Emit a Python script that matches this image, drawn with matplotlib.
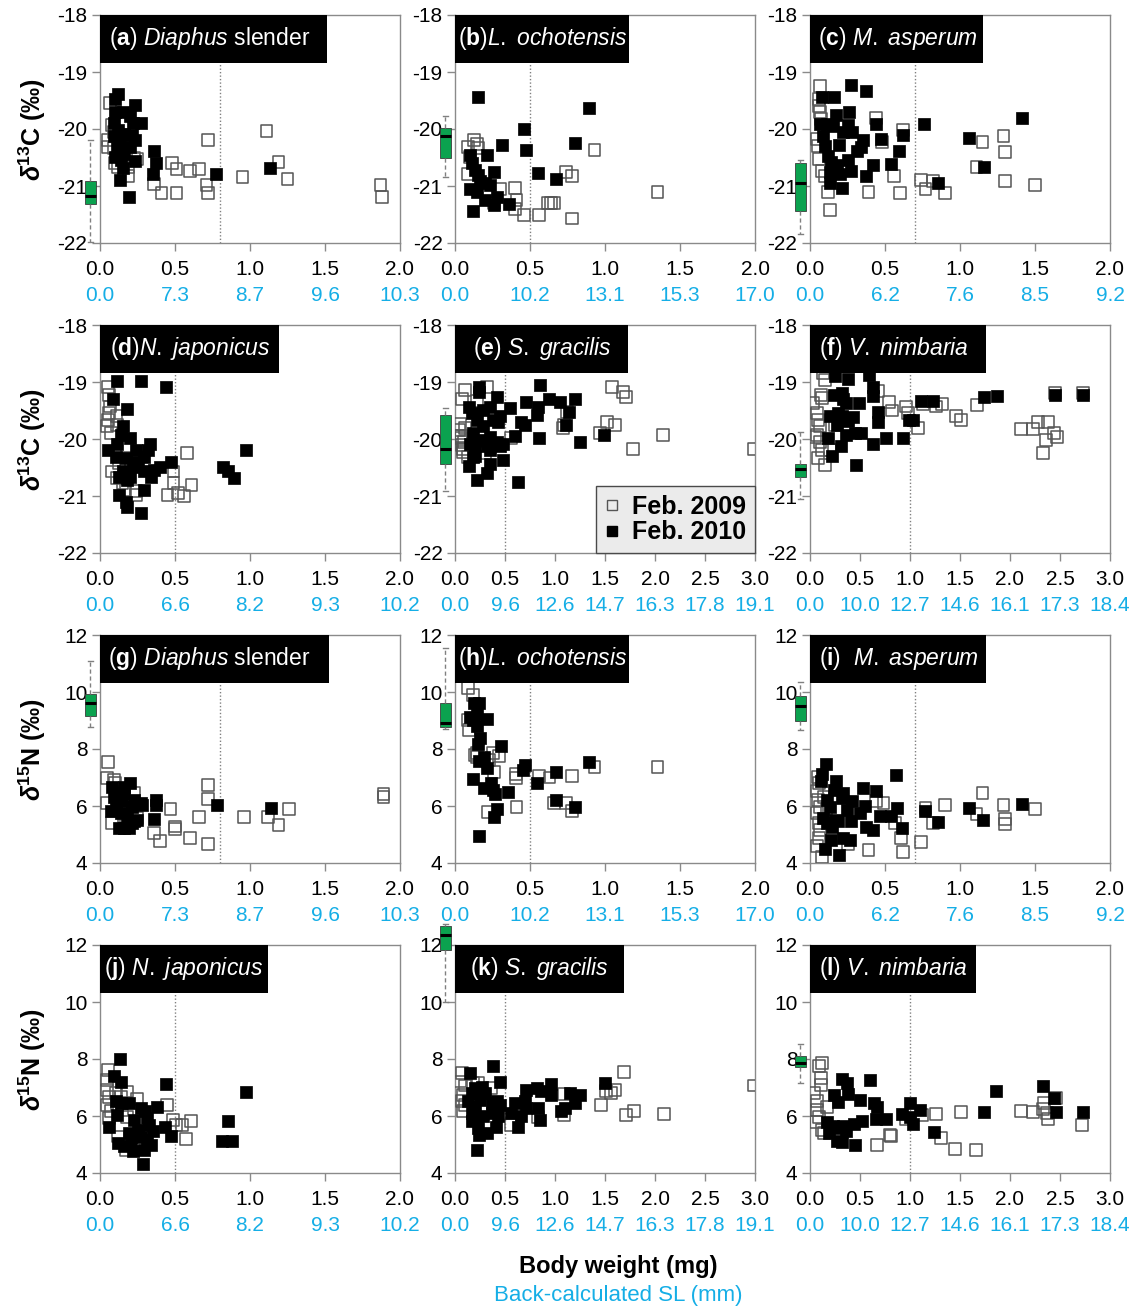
import matplotlib
matplotlib.use('Agg')
import matplotlib.pyplot as plt
from matplotlib.lines import Line2D
from matplotlib.patches import Rectangle

plt.rcParams['font.family'] = ['Liberation Sans', 'DejaVu Sans']
plt.rcParams['mathtext.fontset'] = 'custom'
plt.rcParams['mathtext.rm'] = 'Liberation Sans'
plt.rcParams['mathtext.it'] = 'Liberation Sans:italic'
plt.rcParams['mathtext.bf'] = 'Liberation Sans:bold'
plt.rcParams['mathtext.bfit'] = 'Liberation Sans:italic:bold'
plt.rcParams['axes.unicode_minus'] = False

# ---------------- data ----------------
a_x09 = [0.066,0.077,0.055,0.19,0.23,0.25,0.10,0.055,0.09,0.15,0.12,0.19,0.09,0.16,0.36,0.41,0.48,0.51,0.51,0.60,0.66,0.72,0.71,0.72,0.95,1.11,1.19,1.25,1.87,1.88]
a_y09 = [-19.55,-19.93,-20.31,-20.82,-20.51,-20.53,-20.60,-20.19,-20.05,-20.22,-20.66,-20.66,-20.34,-19.90,-20.97,-21.13,-20.59,-20.70,-21.13,-20.74,-20.71,-20.19,-20.98,-21.13,-20.85,-20.03,-20.58,-20.87,-20.99,-21.20]
a_x10 = [0.12,0.10,0.23,0.10,0.15,0.20,0.09,0.27,0.22,0.12,0.16,0.21,0.09,0.13,0.23,0.20,0.11,0.16,0.10,0.14,0.23,0.15,0.13,0.19,0.36,0.37,0.35,0.77,1.13]
a_y10 = [-19.39,-19.48,-19.58,-19.70,-19.70,-19.78,-19.90,-19.89,-19.90,-20.02,-20.08,-20.10,-20.13,-20.22,-20.20,-20.31,-20.34,-20.43,-20.49,-20.54,-20.57,-20.69,-20.89,-21.20,-20.38,-20.59,-20.79,-20.79,-20.69]

b_x09 = [0.129,0.149,0.089,0.10,0.089,0.155,0.30,0.26,0.40,0.41,0.40,0.46,0.56,0.62,0.66,0.74,0.78,0.78,0.93,1.35,0.64]
b_y09 = [-20.20,-20.26,-20.31,-20.49,-20.79,-20.34,-21.06,-21.30,-21.03,-21.25,-21.41,-21.51,-21.51,-21.29,-21.29,-20.75,-20.82,-21.57,-20.37,-21.10,-21.29]
b_x10 = [0.156,0.10,0.11,0.21,0.31,0.46,0.47,0.55,0.67,0.80,0.89,0.13,0.156,0.167,0.26,0.10,0.12,0.149,0.20,0.20,0.23,0.28,0.26,0.36]
b_y10 = [-19.44,-20.46,-20.60,-20.46,-20.28,-20.00,-20.36,-20.78,-20.88,-20.25,-19.64,-20.72,-20.81,-20.92,-20.75,-21.06,-21.43,-21.11,-20.95,-21.25,-20.98,-21.19,-21.33,-21.32]

c_x09 = [0.067,0.062,0.062,0.067,0.071,0.049,0.055,0.062,0.078,0.122,0.133,0.10,0.39,0.44,0.48,0.56,0.60,0.62,0.74,0.77,0.82,0.90,1.11,1.15,1.29,1.30,1.30,1.50]
c_y09 = [-19.25,-19.47,-19.59,-19.71,-19.82,-20.18,-20.29,-20.53,-20.74,-21.11,-21.42,-20.82,-21.10,-19.80,-20.23,-20.82,-21.13,-20.01,-20.89,-21.06,-20.91,-21.13,-20.67,-20.22,-20.12,-20.41,-20.92,-20.98]
c_x10 = [0.078,0.16,0.27,0.37,0.17,0.26,0.067,0.11,0.155,0.255,0.28,0.22,0.44,0.47,0.62,0.35,0.34,0.31,0.089,0.10,0.19,0.122,0.14,0.25,0.18,0.42,0.54,0.59,0.27,0.13,0.20,0.37,0.13,0.21,0.76,0.85,1.06,1.16,1.41]
c_y10 = [-19.44,-19.44,-19.23,-19.34,-19.75,-19.71,-19.91,-19.91,-19.94,-19.93,-20.06,-20.06,-19.91,-20.18,-20.11,-20.20,-20.32,-20.38,-20.12,-20.29,-20.28,-20.47,-20.58,-20.54,-20.64,-20.64,-20.61,-20.39,-20.73,-20.76,-20.79,-20.82,-20.94,-21.04,-19.91,-20.94,-20.15,-20.66,-19.80]

d_x09 = [0.053,0.06,0.064,0.06,0.053,0.049,0.071,0.11,0.116,0.078,0.11,0.15,0.17,0.25,0.24,0.24,0.45,0.49,0.49,0.52,0.56,0.58,0.61,0.18,0.127,0.17]
d_y09 = [-19.09,-19.23,-19.43,-19.55,-19.67,-19.78,-19.90,-19.60,-19.75,-20.57,-20.69,-20.78,-20.89,-20.31,-20.92,-20.98,-20.98,-20.57,-20.77,-20.95,-21.00,-20.24,-20.80,-20.13,-20.43,-20.49]
d_x10 = [0.116,0.276,0.44,0.089,0.18,0.156,0.20,0.053,0.104,0.116,0.138,0.17,0.24,0.33,0.32,0.29,0.25,0.22,0.15,0.18,0.127,0.20,0.18,0.29,0.36,0.34,0.40,0.47,0.29,0.127,0.17,0.18,0.27,0.82,0.85,0.89,0.97]
d_y10 = [-18.99,-18.99,-19.09,-19.29,-19.48,-19.78,-19.99,-20.19,-20.31,-20.08,-19.93,-20.34,-20.19,-20.08,-20.19,-20.31,-20.49,-20.40,-20.57,-20.60,-20.66,-20.66,-20.72,-20.57,-20.54,-20.66,-20.49,-20.40,-20.89,-20.98,-21.10,-21.19,-21.29,-20.49,-20.57,-20.68,-20.19]

e_x09 = [0.10,0.067,0.05,0.057,0.067,0.077,0.04,0.06,0.09,0.127,0.22,0.32,0.56,1.08,1.12,1.09,1.57,1.68,1.71,1.52,1.60,1.45,1.78,2.08,2.99,0.30,0.08,0.10]
e_y09 = [-19.14,-19.29,-19.73,-19.99,-20.11,-20.17,-19.85,-19.95,-20.05,-20.31,-19.33,-19.08,-19.99,-19.81,-19.52,-19.75,-19.09,-19.17,-19.27,-19.71,-19.75,-19.90,-20.18,-19.93,-20.18,-20.25,-20.22,-19.80]
e_x10 = [0.24,0.24,0.14,0.42,0.55,0.71,0.85,0.94,1.05,1.20,0.82,0.83,1.14,1.11,0.66,0.70,0.60,0.84,1.25,1.49,0.45,0.43,0.167,0.217,0.283,0.183,0.25,0.35,0.15,0.20,0.317,0.417,0.483,0.45,0.35,0.183,0.383,0.283,0.35,0.14,0.20,0.35,0.48,0.32,0.22,0.63]
e_y10 = [-19.09,-19.17,-19.43,-19.27,-19.46,-19.35,-19.05,-19.29,-19.35,-19.30,-19.58,-19.43,-19.53,-19.75,-19.71,-19.75,-19.94,-19.99,-20.06,-19.93,-19.60,-19.71,-19.55,-19.67,-19.78,-19.90,-20.02,-19.96,-20.08,-20.13,-20.13,-20.05,-20.08,-20.13,-20.19,-20.31,-19.67,-19.49,-19.43,-20.47,-20.29,-20.43,-20.36,-20.60,-20.72,-20.75]

f_x09 = [0.133,0.15,0.033,0.107,0.12,0.067,0.083,0.10,0.067,0.10,0.117,0.05,0.083,0.15,0.20,0.25,0.68,0.79,0.82,0.96,0.98,1.08,1.13,1.26,1.32,1.46,1.51,1.67,2.11,2.23,2.28,2.36,2.33,2.44,2.47,2.38,2.45,2.73]
f_y09 = [-18.85,-18.96,-19.37,-19.22,-19.28,-19.55,-19.67,-19.78,-19.93,-20.05,-20.19,-19.96,-20.33,-20.46,-20.19,-19.75,-19.15,-19.35,-19.50,-19.43,-19.55,-19.81,-19.39,-19.43,-19.39,-19.60,-19.66,-19.41,-19.83,-19.83,-19.70,-20.02,-20.24,-19.89,-19.97,-19.70,-19.20,-19.19]
f_x10 = [0.25,0.38,0.59,0.63,0.63,0.24,0.32,0.33,0.36,0.49,0.20,0.28,0.32,0.27,0.43,0.38,0.68,0.68,0.18,0.36,0.45,0.51,0.31,0.63,0.76,0.93,0.22,0.46,0.99,1.03,1.11,1.23,1.74,1.87,2.45,2.73]
f_y10 = [-18.89,-18.94,-18.87,-19.09,-19.25,-19.22,-19.19,-19.30,-19.37,-19.37,-19.60,-19.55,-19.60,-19.75,-19.62,-19.68,-19.52,-19.71,-19.98,-19.93,-19.90,-19.90,-20.12,-20.08,-19.98,-19.99,-20.29,-20.46,-19.67,-19.67,-19.33,-19.33,-19.27,-19.25,-19.22,-19.23]

g_x09 = [0.053,0.049,0.093,0.10,0.044,0.082,0.226,0.25,0.17,0.36,0.40,0.47,0.50,0.50,0.60,0.66,0.72,0.72,0.72,0.96,1.12,1.19,1.26,1.89,1.89]
g_y09 = [7.56,6.98,6.92,6.80,6.12,5.40,6.45,5.57,5.52,5.05,4.76,5.89,5.28,5.19,4.87,5.60,6.74,6.24,4.68,5.61,5.61,5.34,5.89,6.43,6.33]
g_x10 = [0.093,0.126,0.149,0.104,0.071,0.137,0.182,0.215,0.226,0.27,0.215,0.126,0.16,0.193,0.226,0.20,0.16,0.28,0.37,0.37,0.36,0.78,1.14,0.082,0.16,0.248]
g_y10 = [6.33,6.45,6.16,5.98,5.81,5.75,5.63,5.98,6.22,6.10,5.40,5.22,5.22,5.22,5.46,6.82,6.68,6.04,6.22,6.04,5.54,6.04,5.93,6.68,6.45,5.52]

h_x09 = [0.084,0.118,0.089,0.093,0.133,0.144,0.149,0.227,0.256,0.296,0.26,0.218,0.404,0.404,0.41,0.56,0.63,0.78,0.66,0.74,0.78,0.93,1.35]
h_y09 = [10.13,9.90,9.02,8.67,7.79,7.85,7.72,7.62,7.85,7.74,7.19,5.79,7.13,6.98,5.98,7.06,7.00,7.06,6.11,6.11,5.82,7.36,7.38]
h_x10 = [0.127,0.162,0.149,0.10,0.122,0.211,0.144,0.167,0.156,0.307,0.196,0.162,0.216,0.118,0.24,0.196,0.256,0.267,0.356,0.278,0.26,0.162,0.456,0.467,0.549,0.67,0.67,0.80,0.89]
h_y10 = [9.60,9.63,9.22,9.14,9.02,9.06,8.81,8.38,8.18,8.12,7.71,7.58,7.33,6.95,6.80,6.63,6.57,6.43,6.49,5.90,5.60,4.96,7.27,7.44,6.80,7.21,6.21,5.95,7.56]

i_x09 = [0.055,0.062,0.049,0.055,0.067,0.049,0.062,0.067,0.078,0.049,0.062,0.255,0.39,0.44,0.49,0.565,0.605,0.62,0.74,0.77,0.82,0.90,1.11,1.15,1.29,1.30,1.30,1.50,0.09,0.11]
i_y09 = [7.03,6.80,6.51,6.22,5.98,5.75,5.40,5.16,4.21,4.58,4.87,4.67,4.46,6.16,6.10,5.40,4.87,4.40,4.75,5.92,5.40,6.04,5.71,6.45,6.04,5.54,5.38,5.89,6.30,5.90]
i_x10 = [0.104,0.082,0.073,0.173,0.16,0.222,0.216,0.277,0.355,0.44,0.366,0.57,0.58,0.466,0.543,0.333,0.248,0.27,0.372,0.421,0.614,0.11,0.133,0.089,0.11,0.144,0.166,0.188,0.222,0.266,0.137,0.10,0.193,0.765,0.854,1.06,1.15,1.41]
i_y10 = [7.48,7.13,6.86,6.88,6.57,6.45,6.27,6.16,6.63,6.53,6.00,7.08,5.93,5.64,5.66,5.75,5.87,5.46,5.28,5.16,5.24,6.22,5.98,5.57,5.40,5.28,5.52,5.46,4.87,4.81,4.81,4.50,4.29,5.81,5.43,5.93,5.50,6.08]

j_x09 = [0.053,0.049,0.044,0.06,0.049,0.071,0.06,0.104,0.138,0.178,0.116,0.149,0.182,0.249,0.12,0.449,0.487,0.504,0.549,0.604,0.576,0.171]
j_y09 = [7.60,7.27,6.92,6.68,6.39,6.16,5.93,6.80,6.68,6.86,6.39,6.22,5.98,6.59,5.28,6.39,5.87,5.69,5.69,5.81,5.20,4.82]
j_x10 = [0.131,0.093,0.142,0.06,0.109,0.138,0.193,0.116,0.227,0.27,0.30,0.316,0.327,0.356,0.25,0.193,0.204,0.27,0.316,0.338,0.29,0.222,0.16,0.122,0.289,0.382,0.438,0.431,0.476,0.816,0.882,0.853,0.971]
j_y10 = [7.99,7.41,7.21,5.63,6.51,6.47,6.47,6.04,5.87,6.28,6.16,5.93,5.69,5.49,5.52,5.40,5.17,5.28,5.17,4.99,4.82,4.76,4.93,5.05,4.32,6.30,7.12,5.63,5.30,5.13,5.13,5.81,6.83]

k_x09 = [0.066,0.05,0.10,0.083,0.073,0.10,0.083,0.18,0.226,0.365,0.555,0.83,1.09,1.09,1.46,1.51,1.56,1.60,1.69,1.71,1.79,2.09,2.99]
k_y09 = [7.52,7.21,7.07,6.75,6.51,6.39,6.16,7.15,7.17,6.98,5.67,5.96,6.77,6.02,6.39,6.89,6.80,6.92,7.54,6.04,6.16,6.08,7.07]
k_x10 = [0.15,0.38,0.45,0.166,0.20,0.266,0.133,0.20,0.25,0.30,0.365,0.415,0.45,0.166,0.216,0.28,0.365,0.43,0.166,0.233,0.316,0.24,0.405,0.216,0.56,0.60,0.63,0.66,0.714,0.70,0.71,0.83,0.85,0.82,0.86,0.96,0.96,1.06,1.10,1.15,1.20,1.25,1.50]
k_y10 = [7.50,7.74,7.21,6.80,6.98,7.03,6.51,6.33,6.57,6.80,6.45,6.51,6.39,6.10,5.87,5.99,6.10,5.99,5.82,5.59,5.40,5.34,5.63,4.79,6.12,6.47,5.63,5.99,6.92,6.51,6.28,6.28,5.87,6.98,6.86,7.13,6.74,6.16,6.28,6.80,6.45,6.74,7.15]

l_x09 = [0.123,0.09,0.107,0.107,0.04,0.067,0.073,0.09,0.057,0.123,0.14,0.173,0.67,0.80,0.81,0.957,1.12,1.26,1.31,1.45,1.51,1.66,2.11,2.23,2.34,2.33,2.37,2.38,2.46,2.72]
l_y09 = [7.86,7.74,7.33,7.10,6.80,6.51,6.22,5.98,5.80,5.52,5.40,6.33,4.97,5.34,5.30,5.88,6.04,6.08,5.22,4.85,6.13,4.82,6.18,6.13,6.45,6.24,6.10,5.90,6.62,5.69]
l_x10 = [0.24,0.283,0.32,0.37,0.38,0.495,0.60,0.64,0.67,0.655,0.755,0.515,0.44,0.333,0.233,0.19,0.29,0.356,0.273,0.323,0.45,0.173,0.92,1.00,1.00,1.03,1.10,1.24,1.74,1.86,2.33,2.44,2.46,2.73]
l_y10 = [6.74,6.48,7.29,7.15,6.78,6.55,7.27,6.47,6.33,5.88,5.88,5.83,5.71,5.66,5.66,5.42,5.57,5.46,5.14,5.10,4.97,5.80,6.08,6.45,5.98,5.73,6.20,5.45,6.15,6.89,7.06,6.62,6.13,6.13]

# box-plot summaries (median, q1, q3, whisker low, whisker high); None = no box
box_a = [-21.18, -21.32, -20.92, -21.98, -20.19]
box_b = [-20.12, -20.50, -19.99, -20.84, -19.77]
box_c = [-20.94, -21.43, -20.59, -21.85, -20.54]
box_e = [-20.18, -20.43, -19.58, -20.92, -19.45]
box_f = [-20.53, -20.66, -20.43, -21.06, -19.87]
box_g = [9.60, 9.16, 9.93, 8.76, 11.10]
box_h = [8.90, 8.78, 9.62, 8.69, 11.53]
box_i = [9.51, 9.00, 9.86, 8.67, 10.36]
box_k = [12.35, 11.82, 12.67, 10.01, 12.74]
box_l = [7.87, 7.73, 8.10, 7.17, 8.53]

# x tick labels
wt_ticks2 = [0.0, 0.5, 1.0, 1.5, 2.0]
wt_ticks3 = [0.0, 0.5, 1.0, 1.5, 2.0, 2.5, 3.0]
sl_diaphus = ['0.0', '7.3', '8.7', '9.6', '10.3']
sl_lochot = ['0.0', '10.2', '13.1', '15.3', '17.0']
sl_masper = ['0.0', '6.2', '7.6', '8.5', '9.2']
sl_njapon = ['0.0', '6.6', '8.2', '9.3', '10.2']
sl_sgrac = ['0.0', '9.6', '12.6', '14.7', '16.3', '17.8', '19.1']
sl_vnimb = ['0.0', '10.0', '12.7', '14.6', '16.1', '17.3', '18.4']

# thresholds (dotted lines)
thr = {'a': 0.8, 'b': 0.5, 'c': 0.7, 'd': 0.5, 'e': 0.5, 'f': 1.0,
       'g': 0.8, 'h': 0.5, 'i': 0.7, 'j': 0.5, 'k': 0.5, 'l': 1.0}

titles = {
    'a': r'($\mathbf{a}$) $\mathit{Diaphus}$ slender',
    'b': r'($\mathbf{b}$)$\mathit{L.\ ochotensis}$',
    'c': r'($\mathbf{c}$) $\mathit{M.\ asperum}$',
    'd': r'($\mathbf{d}$)$\mathit{N.\ japonicus}$',
    'e': r'($\mathbf{e}$) $\mathit{S.\ gracilis}$',
    'f': r'($\mathbf{f}$) $\mathit{V.\ nimbaria}$',
    'g': r'($\mathbf{g}$) $\mathit{Diaphus}$ slender',
    'h': r'($\mathbf{h}$)$\mathit{L.\ ochotensis}$',
    'i': r'($\mathbf{i}$)  $\mathit{M.\ asperum}$',
    'j': r'($\mathbf{j}$) $\mathit{N.\ japonicus}$',
    'k': r'($\mathbf{k}$) $\mathit{S.\ gracilis}$',
    'l': r'($\mathbf{l}$) $\mathit{V.\ nimbaria}$',
}
title_w = {'a': 0.757, 'b': 0.58, 'c': 0.577, 'd': 0.597, 'e': 0.577, 'f': 0.587,
           'g': 0.763, 'h': 0.58, 'i': 0.587, 'j': 0.56, 'k': 0.563, 'l': 0.553}
title_x = {'a': 0.03, 'b': 0.01, 'c': 0.027, 'd': 0.035, 'e': 0.06, 'f': 0.03,
           'g': 0.027, 'h': 0.01, 'i': 0.03, 'j': 0.013, 'k': 0.05, 'l': 0.03}

panels = [
    ('a', a_x09, a_y09, a_x10, a_y10, box_a, 2.0, sl_diaphus, 'C'),
    ('b', b_x09, b_y09, b_x10, b_y10, box_b, 2.0, sl_lochot, 'C'),
    ('c', c_x09, c_y09, c_x10, c_y10, box_c, 2.0, sl_masper, 'C'),
    ('d', d_x09, d_y09, d_x10, d_y10, None, 2.0, sl_njapon, 'C'),
    ('e', e_x09, e_y09, e_x10, e_y10, box_e, 3.0, sl_sgrac, 'C'),
    ('f', f_x09, f_y09, f_x10, f_y10, box_f, 3.0, sl_vnimb, 'C'),
    ('g', g_x09, g_y09, g_x10, g_y10, box_g, 2.0, sl_diaphus, 'N'),
    ('h', h_x09, h_y09, h_x10, h_y10, box_h, 2.0, sl_lochot, 'N'),
    ('i', i_x09, i_y09, i_x10, i_y10, box_i, 2.0, sl_masper, 'N'),
    ('j', j_x09, j_y09, j_x10, j_y10, None, 2.0, sl_njapon, 'N'),
    ('k', k_x09, k_y09, k_x10, k_y10, box_k, 3.0, sl_sgrac, 'N'),
    ('l', l_x09, l_y09, l_x10, l_y10, box_l, 3.0, sl_vnimb, 'N'),
]

# ---------------- figure ----------------
W, H = 1139, 1309
fig = plt.figure(figsize=(W / 100, H / 100), dpi=100)
fig.patch.set_facecolor('white')

col_left = [100, 455, 810]
row_top = [15, 325, 635, 945]
aw, ah = 300, 228
spine_c = '#8a8a8a'
cyan = '#15aee6'
green = '#0ba24f'

for idx, (key, x09, y09, x10, y10, box, xmax, sl, iso) in enumerate(panels):
    r, c = divmod(idx, 3)
    ax = fig.add_axes([col_left[c] / W, 1 - (row_top[r] + ah) / H, aw / W, ah / H])
    for s in ax.spines.values():
        s.set_color(spine_c)
        s.set_linewidth(1.0)

    ax.axvline(thr[key], color='#808080', ls=(0, (1, 1.5)), lw=1.0, zorder=1)
    ax.scatter(x09, y09, marker='s', s=74, facecolors='none', edgecolors='#555555',
               linewidths=1.1, zorder=3)
    ax.scatter(x10, y10, marker='s', s=74, facecolors='black', edgecolors='black',
               linewidths=0.5, zorder=4)

    if iso == 'C':
        ax.set_ylim(-22, -18)
        ax.set_yticks([-22, -21, -20, -19, -18])
        ax.set_yticklabels(['-22', '-21', '-20', '-19', '-18'])
        ylab = r'$\mathbfit{\delta}^{\mathbf{13}}\mathbf{C}$ (‰)'
    else:
        ax.set_ylim(4, 12)
        ax.set_yticks([4, 6, 8, 10, 12])
        ylab = r'$\mathbfit{\delta}^{\mathbf{15}}\mathbf{N}$ (‰)'

    if box is not None:
        med, q1, q3, lo, hi = box
        stats = [{'med': med, 'q1': q1, 'q3': q3, 'whislo': lo, 'whishi': hi, 'fliers': []}]
        art = ax.bxp(stats, positions=[-0.032 * xmax], widths=[0.034 * xmax],
                     capwidths=[0.016 * xmax], patch_artist=True, manage_ticks=False,
                     showfliers=False,
                     boxprops=dict(facecolor=green, edgecolor='#3c3c3c', linewidth=0.6),
                     medianprops=dict(color='black', linewidth=2.2),
                     whiskerprops=dict(color='#808080', linestyle=(0, (3, 2)), linewidth=1.0),
                     capprops=dict(color='#808080', linewidth=1.0))
        for lst in art.values():
            for a in lst:
                a.set_clip_on(False)
                a.set_zorder(6)

    ticks = wt_ticks2 if xmax == 2.0 else wt_ticks3
    ax.set_xlim(0, xmax)
    ax.set_xticks(ticks)
    ax.set_xticklabels(['%.1f' % t for t in ticks])
    ax.tick_params(axis='both', direction='out', color=spine_c, labelsize=15,
                   labelcolor='black', width=1.0)
    ax.tick_params(axis='x', length=6, pad=6)
    ax.tick_params(axis='y', length=6, pad=3)

    sec = ax.secondary_xaxis(-0.175)
    sec.set_xticks(ticks)
    sec.set_xticklabels(sl)
    sec.tick_params(axis='x', length=0, pad=2, labelsize=15, labelcolor=cyan)
    sec.spines['bottom'].set_visible(False)

    # title box
    ax.add_patch(Rectangle((0, 0.79), title_w[key], 0.21, transform=ax.transAxes,
                           facecolor='black', edgecolor='none', zorder=7, clip_on=False))
    ax.text(title_x[key], 0.895, titles[key], transform=ax.transAxes, color='white',
            fontsize=16.5, va='center', ha='left', zorder=8)

    if c == 0:
        ax.set_ylabel(ylab, fontsize=18, fontweight='bold')
        ax.yaxis.set_label_coords(-0.175, 0.5)

    if key == 'e':
        handles = [Line2D([], [], ls='none', marker='s', markersize=7, markerfacecolor='none',
                          markeredgecolor='#555555', markeredgewidth=1.0),
                   Line2D([], [], ls='none', marker='s', markersize=7, markerfacecolor='black',
                          markeredgecolor='black')]
        leg = ax.legend(handles, ['Feb. 2009', 'Feb. 2010'], loc='lower right',
                        bbox_to_anchor=(1.0, 0.0), borderaxespad=0.0, frameon=True,
                        fancybox=False, prop={'weight': 'bold', 'size': 18},
                        handlelength=0.6, handletextpad=0.5, labelspacing=0.05,
                        borderpad=0.35)
        fr = leg.get_frame()
        fr.set_facecolor('#ebebeb')
        fr.set_edgecolor('#4a4a4a')
        fr.set_linewidth(1.0)
        fr.set_alpha(1.0)
        leg.set_zorder(9)

fig.text(618 / W, 1 - 1267 / H, 'Body weight (mg)', ha='center', va='center',
         fontsize=17, fontweight='bold', color='black')
fig.text(618 / W, 1 - 1296 / H, 'Back-calculated SL (mm)', ha='center', va='center',
         fontsize=16, color=cyan)

fig.savefig('out.png', dpi=100, facecolor='white')
